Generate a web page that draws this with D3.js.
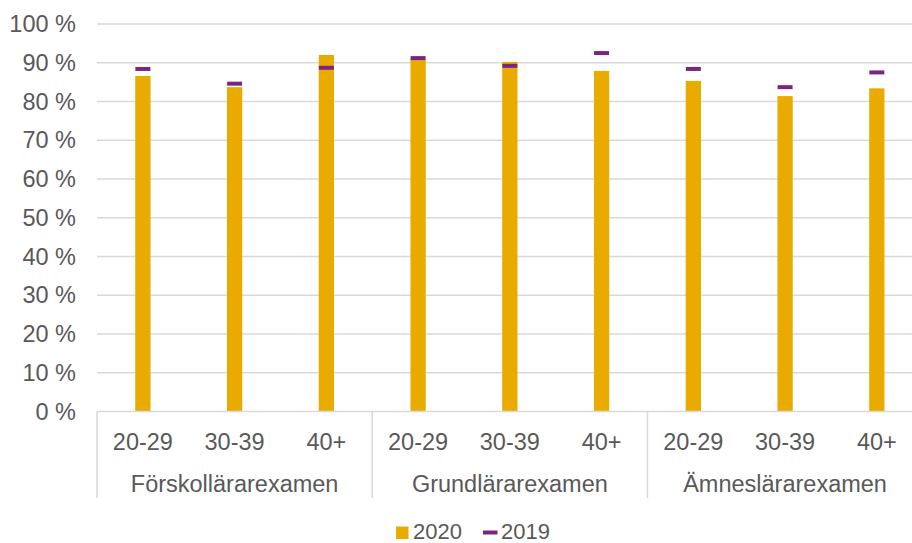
<!DOCTYPE html>
<html>
<head>
<meta charset="utf-8">
<script src="https://cdn.jsdelivr.net/npm/d3@7/dist/d3.min.js"></script>
<style>
  html, body { margin: 0; padding: 0; background: #fff; }
  svg { display: block; font-family: "Liberation Sans", Arial, sans-serif; }
</style>
</head>
<body>
<svg id="chart" width="912" height="543"></svg>
<script>
const groups = ["Förskollärarexamen", "Grundlärarexamen", "Ämneslärarexamen"];
const ages = ["20-29", "30-39", "40+"];
const values2020 = [86.6, 83.7, 92.0, 90.9, 90.2, 87.9, 85.3, 81.4, 83.4];
const values2019 = [88.4, 84.6, 88.7, 91.2, 89.2, 92.5, 88.4, 83.7, 87.5];
const yTicks = [0, 10, 20, 30, 40, 50, 60, 70, 80, 90, 100];
const seriesNames = ["2020", "2019"];

const barColor = "#EAAB00";
const markColor = "#7A2582";
const textColor = "#595959";
const gridColor = "#D9D9D9";

const svg = d3.select("#chart");
const pLeft = 97, pRight = 922.7, pTop = 24, pBottom = 411.5;

const cats = [];
groups.forEach((g, gi) => ages.forEach((a, ai) => cats.push({ g, a, key: g + "|" + a, i: gi * 3 + ai })));

const x = d3.scaleBand().domain(cats.map(c => c.key)).range([pLeft, pRight]).padding(0);
const y = d3.scaleLinear().domain([0, 100]).range([pBottom, pTop]);
const bw = x.bandwidth() / 6;

// gridlines
svg.append("g").selectAll("line").data(yTicks.filter(t => t > 0)).join("line")
  .attr("x1", pLeft).attr("x2", 912)
  .attr("y1", d => y(d)).attr("y2", d => y(d))
  .attr("stroke", gridColor).attr("stroke-width", 1.3);

// y axis labels
const yAxis = d3.axisLeft(y).tickValues(yTicks).tickSize(0).tickPadding(21)
  .tickFormat(d => d + " %");
const ya = svg.append("g").attr("transform", `translate(${pLeft},0)`).call(yAxis);
ya.select(".domain").remove();
ya.selectAll("text").attr("font-size", 23.5).attr("fill", textColor)
  .attr("font-family", "Liberation Sans, Arial, sans-serif");

// bars
svg.append("g").selectAll("rect").data(cats).join("rect")
  .attr("x", d => x(d.key) + x.bandwidth() / 2 - bw / 2)
  .attr("width", bw)
  .attr("y", d => y(values2020[d.i]))
  .attr("height", d => y(0) - y(values2020[d.i]))
  .attr("fill", barColor);

// 2019 markers
svg.append("g").selectAll("rect").data(cats).join("rect")
  .attr("x", d => x(d.key) + x.bandwidth() / 2 - 7.5)
  .attr("width", 15)
  .attr("y", d => y(values2019[d.i]) - 2)
  .attr("height", 4)
  .attr("fill", markColor);

// x axis line
svg.append("line").attr("x1", pLeft).attr("x2", 912).attr("y1", pBottom).attr("y2", pBottom)
  .attr("stroke", gridColor).attr("stroke-width", 1.5);

// group separators
const seps = [0, 3, 6, 9].map(i => i < 9 ? x(cats[i].key) : pRight);
svg.append("g").selectAll("line").data(seps).join("line")
  .attr("x1", d => d).attr("x2", d => d).attr("y1", pBottom).attr("y2", 498)
  .attr("stroke", gridColor).attr("stroke-width", 1.5);

// category labels
svg.append("g").selectAll("text").data(cats).join("text")
  .attr("x", d => x(d.key) + x.bandwidth() / 2)
  .attr("y", 450)
  .attr("text-anchor", "middle").attr("font-size", 23.5).attr("fill", textColor)
  .text(d => d.a);

// group labels
svg.append("g").selectAll("text").data(groups).join("text")
  .attr("x", (d, i) => (x(cats[i * 3].key) + x(cats[i * 3 + 2].key) + x.bandwidth()) / 2)
  .attr("y", 491.5)
  .attr("text-anchor", "middle").attr("font-size", 23.5).attr("fill", textColor)
  .text(d => d);

// legend
const lg = svg.append("g");
lg.append("rect").attr("x", 396).attr("y", 526.5).attr("width", 12.5).attr("height", 12.5).attr("fill", barColor);
lg.append("text").attr("x", 413).attr("y", 538.5).attr("font-size", 22).attr("fill", textColor).text(seriesNames[0]);
lg.append("rect").attr("x", 483).attr("y", 530.5).attr("width", 14.5).attr("height", 4).attr("fill", markColor);
lg.append("text").attr("x", 501).attr("y", 538.5).attr("font-size", 22).attr("fill", textColor).text(seriesNames[1]);
</script>
</body>
</html>
